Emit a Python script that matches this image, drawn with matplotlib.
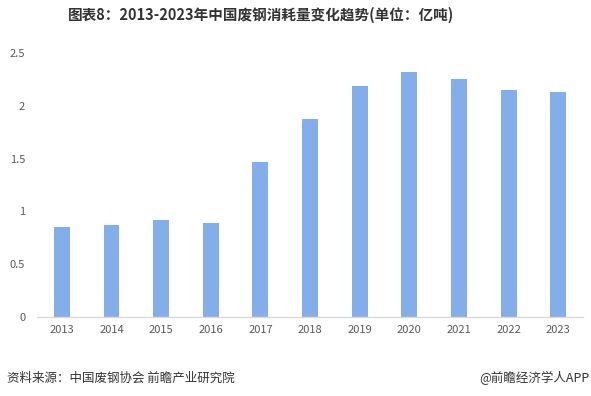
import matplotlib
matplotlib.use("Agg")
from matplotlib import pyplot as plt

# ---------------------------------------------------------------------------
# Data
# ---------------------------------------------------------------------------
years = ["2013", "2014", "2015", "2016", "2017", "2018",
         "2019", "2020", "2021", "2022", "2023"]
consumption = [0.85, 0.87, 0.92, 0.89, 1.47, 1.88, 2.19, 2.32, 2.25, 2.15, 2.13]
y_ticks = [0, 0.5, 1, 1.5, 2, 2.5]
y_tick_labels = ["0", "0.5", "1", "1.5", "2", "2.5"]

title = "图表8：2013-2023年中国废钢消耗量变化趋势(单位：亿吨)"
source = "资料来源：中国废钢协会 前瞻产业研究院"
brand = "@前瞻经济学人APP"

plt.rcParams["font.family"] = ["Noto Sans CJK SC", "DejaVu Sans"]

# ---------------------------------------------------------------------------
# Plot
# ---------------------------------------------------------------------------
fig = plt.figure(figsize=(5.91, 3.96), dpi=100)
ax = fig.add_axes([0.0626, 0.1995, 0.924, 0.6665])

x = range(len(years))
ax.bar(x, consumption, width=0.32, color="#84AEEA", zorder=2)

ax.set_xlim(-0.5, len(years) - 0.5)
ax.set_ylim(0, 2.5)
ax.set_xticks(list(x))
ax.set_xticklabels(years, fontsize=8, color="#595959")
ax.set_yticks(y_ticks)
ax.set_yticklabels(y_tick_labels, fontsize=8, color="#595959")
ax.tick_params(axis="both", length=0)
ax.tick_params(axis="x", pad=6)
ax.tick_params(axis="y", pad=8.5)

for side in ["top", "right", "left"]:
    ax.spines[side].set_visible(False)
ax.spines["bottom"].set_color("#d9d9d9")
ax.spines["bottom"].set_linewidth(1.0)

fig.text(0.442, 0.962, title, ha="center", va="center",
         fontsize=10.5, fontweight="bold", color="#333333")
fig.text(0.012, 0.045, source, ha="left", va="center",
         fontsize=9, color="#333333")
fig.text(0.998, 0.045, brand, ha="right", va="center",
         fontsize=9, color="#333333")

fig.savefig("out.png", dpi=100)
